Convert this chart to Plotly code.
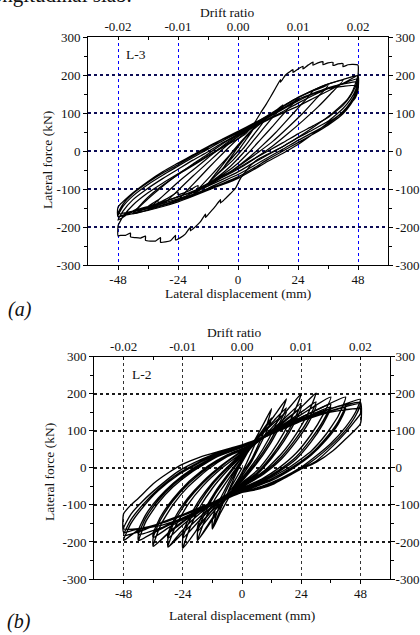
import plotly.graph_objects as go

W, H = 420, 635

# ---------------- L-3 (panel a): displacement (mm), force (kN) pairs
L3_inner = [
    (0, 0),
    (-6, -45), (-3, -18), (0, 10), (3, 35), (6, 55), (3, 28), (0, 0), (-3, -22), (-6, -45),
    (-12, -85), (-8, -52), (-4, -18), (0, 14), (4, 45), (8, 72), (12, 95), (9, 66), (5, 32), (2, 6),
    (-2, -24), (-6, -48), (-9, -66), (-12, -85),
    (-18, -115), (-13, -80), (-8, -44), (-3, -8), (0, 16), (5, 50), (10, 78), (14, 100), (18, 122),
    (14, 90), (10, 58), (6, 26), (2, -6), (-3, -40), (-8, -68), (-13, -92), (-18, -115),
    (-24, -130), (-18, -88), (-12, -46), (-6, -6), (0, 32), (6, 64), (12, 92), (18, 118), (24, 140),
    (19, 104), (14, 66), (9, 30), (4, -6), (0, -32), (-6, -62), (-12, -86), (-18, -108), (-24, -130),
    (-30, -143), (-24, -104), (-18, -66), (-12, -30), (-6, 6), (0, 38), (6, 66), (12, 92), (18, 118),
    (24, 140), (30, 158), (25, 120), (20, 84), (15, 48), (10, 16), (5, -14), (0, -40), (-6, -68),
    (-12, -92), (-18, -110), (-24, -128), (-30, -143),
    (-36, -155), (-30, -118), (-24, -82), (-18, -50), (-12, -18), (-6, 14), (0, 42), (6, 68), (12, 92),
    (18, 118), (24, 140), (30, 158), (36, 172), (31, 136), (26, 100), (20, 62), (14, 26), (8, -4),
    (2, -32), (-4, -58), (-10, -80), (-16, -100), (-22, -116), (-28, -130), (-36, -155),
    (-42, -165), (-36, -126), (-30, -92), (-24, -62), (-18, -34), (-12, -8), (-6, 20), (0, 45), (6, 70),
    (12, 94), (18, 118), (24, 140), (30, 160), (36, 176), (42, 186), (37, 150), (32, 116), (26, 80),
    (20, 46), (14, 14), (8, -14), (2, -40), (-4, -62), (-10, -82), (-16, -100), (-22, -116), (-28, -130),
    (-34, -143), (-42, -165),
]

L3_serrated = [
    (-42, -165), (-38, -135), (-34, -110), (-28, -80), (-22, -54), (-16, -30), (-10, -6), (-4, 18), (0, 32),
    (3, 45), (5, 60), (7, 78), (9, 100), (11, 120), (13, 142), (15, 165), (17, 188), (17, 181), (19, 200),
    (21, 210), (22, 214), (22, 207), (24, 216), (26, 223), (26, 216), (28, 226), (30, 234), (30, 226),
    (32, 232), (34, 235), (34, 227), (36, 232), (38, 233), (38, 225), (40, 229), (42, 230), (42, 222),
    (44, 227), (46, 228), (48, 226), (48, 200),
    (46, 160), (44, 138), (40, 112), (36, 90), (30, 62), (24, 36), (18, 12), (12, -8), (8, -22), (5, -38),
    (3, -55), (1, -72), (0, -85),
    (-1, -98), (-3, -112), (-5, -125), (-7, -137), (-7, -128), (-9, -145), (-11, -160), (-13, -175),
    (-13, -166), (-15, -186), (-17, -199), (-19, -210), (-19, -200), (-21, -218), (-23, -228), (-25, -234),
    (-25, -222), (-27, -236), (-29, -239), (-31, -240), (-31, -228), (-33, -237), (-35, -237), (-37, -235),
    (-37, -224), (-39, -229), (-41, -228), (-43, -226), (-43, -216), (-45, -222), (-47, -222), (-48, -224),
    (-48, -196),
]

L3_cycles48 = [
    (-48, -196), (-46, -172), (-42, -142), (-36, -110), (-30, -84), (-24, -60), (-18, -36), (-12, -12),
    (-6, 12), (0, 38), (6, 62), (12, 82), (18, 100), (24, 118), (30, 138), (36, 158), (42, 178), (48, 198),
    (47, 170), (45, 145), (42, 120), (36, 88), (30, 66), (24, 45), (18, 22), (12, 0), (6, -22), (0, -45),
    (-6, -66), (-12, -86), (-16, -98), (-16, -91), (-20, -106), (-24, -115), (-24, -108), (-28, -124),
    (-32, -136), (-32, -129), (-36, -146), (-40, -158), (-40, -151), (-44, -166), (-48, -182),
    (-46, -158), (-42, -128), (-36, -98), (-30, -72), (-24, -48), (-18, -24), (-12, -2), (-6, 22), (0, 43),
    (6, 64), (12, 84), (18, 104), (24, 126), (30, 146), (36, 164), (42, 178), (48, 190),
    (47, 160), (45, 136), (42, 112), (36, 78), (30, 56), (24, 35), (18, 12), (12, -10), (6, -32), (0, -55),
    (-6, -74), (-12, -92), (-18, -108), (-24, -120), (-30, -134), (-36, -146), (-42, -158), (-48, -172),
    (-46, -146), (-42, -118), (-36, -88), (-30, -63), (-24, -40), (-18, -17), (-12, 5), (-6, 27), (0, 47),
    (6, 67), (12, 88), (18, 110), (24, 132), (30, 150), (36, 166), (42, 176), (48, 182),
    (47, 152), (45, 128), (42, 104), (36, 72), (30, 49), (24, 28), (18, 5), (12, -17), (6, -40), (0, -62),
    (-6, -80), (-12, -98), (-18, -114), (-24, -126), (-30, -138), (-36, -149), (-42, -158), (-48, -165),
    (-46, -140), (-42, -112), (-36, -83), (-30, -58), (-24, -36), (-18, -13), (-12, 9), (-6, 31), (0, 50),
    (6, 70), (12, 91), (18, 113), (24, 136), (30, 152), (36, 164), (42, 170), (48, 172),
    (47, 145), (45, 122), (42, 98), (36, 68), (30, 44), (24, 22), (18, 0), (12, -22), (6, -46), (0, -68),
    (-6, -85), (-12, -101), (-18, -117), (-24, -130), (-30, -142), (-36, -152), (-42, -160), (-48, -173),
    (-48, -148), (-42, -110), (-36, -80), (-30, -54), (-24, -32), (-18, -10), (-12, 12), (-6, 32), (0, 52),
    (6, 72), (12, 92), (18, 117), (24, 141), (30, 160), (36, 176), (42, 188), (48, 198),
    (48, 160), (47, 140), (46, 132), (42, 102), (36, 74), (30, 45), (24, 17), (18, -6), (12, -27), (6, -50),
    (0, -72), (-6, -88), (-12, -103), (-18, -119), (-24, -134), (-30, -146), (-36, -156), (-42, -165),
    (-48, -173),
]

# ---------------- L-2 (panel b)
L2_small = [
    (0, 0),
    (-6, -70), (-4, -40), (-2, -10), (0, 15), (2, 38), (4, 58), (6, 75), (4, 45), (2, 15), (0, -12),
    (-2, -35), (-4, -55), (-6, -70),
    (-12, -165), (-10, -118), (-7, -70), (-4, -30), (0, 15), (3, 50), (6, 85), (9, 122), (12, 160),
    (10, 115), (7, 68), (4, 25), (0, -15), (-3, -50), (-6, -88), (-9, -125), (-12, -165),
    (-12, -140), (-10, -100), (-7, -60), (-4, -22), (0, 20), (3, 52), (6, 80), (9, 108), (12, 135),
    (10, 98), (7, 58), (4, 18), (0, -22), (-3, -52), (-6, -80), (-9, -108), (-12, -140),
    (-18, -196), (-15, -140), (-11, -85), (-6, -35), (0, 22), (4, 58), (8, 95), (13, 140), (18, 186),
    (15, 135), (11, 80), (6, 25), (0, -28), (-4, -62), (-8, -98), (-13, -145), (-18, -196),
    (-18, -172), (-15, -122), (-11, -72), (-6, -25), (0, 28), (4, 60), (8, 92), (13, 128), (18, 162),
    (15, 118), (11, 68), (6, 18), (0, -32), (-4, -62), (-8, -92), (-13, -130), (-18, -172),
    (-18, -158), (-15, -112), (-11, -66), (-6, -20), (0, 30), (4, 62), (8, 90), (13, 122), (18, 150),
    (15, 108), (11, 60), (6, 12), (0, -36), (-4, -64), (-8, -90), (-13, -122), (-18, -158),
]

L2_mid = [
    (-24, -217), (-21, -160), (-17, -105), (-12, -55), (-6, -8), (0, 32), (6, 68), (11, 100), (17, 145),
    (24, 200), (21, 148), (17, 95), (12, 42), (6, -8), (0, -40), (-6, -72), (-11, -105), (-17, -155),
    (-24, -217),
    (-24, -190), (-21, -140), (-17, -92), (-12, -45), (-6, -2), (0, 36), (6, 68), (11, 96), (17, 132),
    (24, 175), (21, 128), (17, 80), (12, 32), (6, -14), (0, -44), (-6, -72), (-11, -100), (-17, -140),
    (-24, -190),
    (-24, -176), (-21, -130), (-17, -84), (-12, -40), (-6, 2), (0, 38), (6, 68), (11, 94), (17, 126),
    (24, 163), (21, 118), (17, 72), (12, 26), (6, -18), (0, -46), (-6, -74), (-11, -98), (-17, -132),
    (-24, -176),
    (-30, -214), (-27, -158), (-22, -100), (-16, -50), (-8, 0), (0, 40), (7, 72), (13, 102), (20, 140),
    (25, 170), (30, 202), (27, 150), (22, 92), (16, 38), (9, -8), (0, -48), (-7, -75), (-13, -102),
    (-20, -140), (-25, -175), (-30, -214),
    (-30, -190), (-27, -140), (-22, -88), (-16, -42), (-8, 6), (0, 44), (7, 74), (13, 100), (20, 132),
    (25, 155), (30, 178), (27, 132), (22, 80), (16, 30), (9, -12), (0, -50), (-7, -76), (-13, -100),
    (-20, -132), (-25, -160), (-30, -190),
    (-30, -178), (-27, -132), (-22, -82), (-16, -38), (-8, 8), (0, 46), (7, 75), (13, 99), (20, 128),
    (25, 148), (30, 166), (27, 122), (22, 72), (16, 24), (9, -16), (0, -52), (-7, -78), (-13, -100),
    (-20, -128), (-25, -152), (-30, -178),
    (-36, -212), (-33, -155), (-28, -100), (-22, -52), (-14, -5), (-6, 30), (0, 48), (8, 78), (15, 105),
    (22, 135), (29, 165), (36, 191), (33, 145), (28, 90), (22, 40), (15, 0), (8, -30), (0, -55), (-8, -80),
    (-15, -105), (-22, -135), (-29, -170), (-36, -212),
    (-36, -188), (-33, -140), (-28, -90), (-22, -45), (-14, 0), (-6, 32), (0, 50), (8, 78), (15, 104),
    (22, 130), (29, 152), (36, 172), (33, 128), (28, 78), (22, 30), (15, -6), (8, -34), (0, -58),
    (-8, -82), (-15, -106), (-22, -132), (-29, -158), (-36, -188),
    (-36, -176), (-33, -132), (-28, -84), (-22, -40), (-14, 4), (-6, 35), (0, 52), (8, 79), (15, 103),
    (22, 127), (29, 146), (36, 164), (33, 120), (28, 70), (22, 24), (15, -10), (8, -37), (0, -60),
    (-8, -84), (-15, -107), (-22, -130), (-29, -152), (-36, -176),
]

L2_large = [
    (-42, -196), (-39, -145), (-34, -95), (-28, -52), (-20, -10), (-10, 30), (0, 55), (8, 80), (16, 108),
    (24, 136), (32, 162), (42, 191), (39, 140), (34, 90), (28, 45), (20, 5), (12, -25), (0, -62), (-8, -85),
    (-16, -110), (-24, -135), (-32, -160), (-42, -196),
    (-42, -180), (-39, -135), (-34, -88), (-28, -46), (-20, -6), (-10, 32), (0, 56), (8, 80), (16, 106),
    (24, 132), (32, 152), (42, 170), (39, 125), (34, 80), (28, 38), (20, 0), (12, -30), (0, -64), (-8, -88),
    (-16, -112), (-24, -138), (-32, -160), (-42, -180),
    (-42, -168), (-39, -126), (-34, -82), (-28, -42), (-20, -2), (-10, 34), (0, 57), (8, 80), (16, 104),
    (24, 128), (32, 146), (42, 162), (39, 118), (34, 74), (28, 34), (20, -4), (12, -34), (0, -65),
    (-8, -89), (-16, -112), (-24, -136), (-32, -154), (-42, -168),
    (-48, -196), (-45, -150), (-40, -105), (-34, -62), (-26, -20), (-16, 18), (-6, 45), (0, 58), (8, 80),
    (16, 104), (24, 128), (32, 150), (40, 168), (48, 185), (46, 150), (42, 110), (36, 66), (30, 32),
    (24, 2), (16, -28), (8, -50), (0, -66), (-8, -84), (-16, -104), (-24, -126), (-32, -146), (-40, -168),
    (-48, -183),
    (-45, -140), (-40, -98), (-34, -58), (-26, -16), (-16, 20), (-6, 47), (0, 60), (8, 80), (16, 103),
    (24, 126), (32, 146), (40, 162), (48, 173), (46, 140), (42, 102), (36, 60), (30, 26), (24, -2),
    (16, -30), (8, -52), (0, -66), (-8, -86), (-16, -106), (-24, -128), (-32, -148), (-40, -162), (-48, -165),
    (-45, -125), (-40, -88), (-34, -52), (-26, -10), (-16, 24), (-6, 50), (0, 62), (8, 82), (16, 104),
    (24, 126), (32, 144), (40, 155), (48, 160), (48, 146), (46, 128), (42, 95), (37, 60), (30, 18),
    (24, -3), (18, -25), (12, -43), (7, -57), (0, -66), (-8, -88), (-16, -108), (-24, -129), (-36, -156),
    (-44, -168), (-48, -174), (-48, -124),
    (-45, -100), (-42, -82), (-36, -43), (-30, -14), (-24, 10), (-17, 29), (-10, 43), (0, 62), (6, 75),
    (12, 95), (18, 115), (24, 132), (30, 148), (37, 162), (42, 170), (48, 177), (48, 119), (42, 78),
    (37, 47), (30, 15), (24, -3), (18, -25), (13, -43), (7, -57), (0, -66),
]

disp_ticks = [-48, -24, 0, 24, 48]
disp_minor = [-36, -12, 12, 36]
drift_ticks = [-0.02, -0.01, 0.0, 0.01, 0.02]
drift_labels = ["-0.02", "-0.01", "0.00", "0.01", "0.02"]
drift_minor = [-0.015, -0.005, 0.005, 0.015]
force_ticks = [-300, -200, -100, 0, 100, 200, 300]
force_labels = ["-300", "-200", "-100", "0", "100", "200", "300"]
force_minor = [-250, -150, -50, 50, 150, 250]

FONT = "Liberation Serif, Times New Roman, serif"
tickfont = dict(family=FONT, size=13, color="#111111")

fig = go.Figure()


def add_path(pts, xa, ya, width):
    fig.add_trace(go.Scatter(
        x=[p[0] for p in pts], y=[p[1] for p in pts], mode="lines",
        line=dict(color="black", width=width, shape="spline", smoothing=0.5),
        xaxis=xa, yaxis=ya, showlegend=False, hoverinfo="skip"))


for pts in (L3_inner, L3_serrated, L3_cycles48):
    add_path(pts, "x", "y", 1.25)
for pts in (L2_small, L2_mid, L2_large):
    add_path(pts, "x3", "y3", 1.35)
# placeholders so the secondary axes are drawn
for xa, ya in (("x2", "y"), ("x", "y2"), ("x4", "y3"), ("x3", "y4")):
    fig.add_trace(go.Scatter(x=[None], y=[None], xaxis=xa, yaxis=ya, showlegend=False))


def xbottom(dom, anchor, gridcolor, gridwidth):
    return dict(domain=dom, anchor=anchor, range=[-60, 60], tickvals=disp_ticks,
                ticktext=[str(v) for v in disp_ticks], ticks="outside", ticklen=4,
                tickcolor="black", showline=True, linecolor="black", linewidth=1,
                showgrid=True, gridcolor=gridcolor, griddash="dot", gridwidth=gridwidth,
                zeroline=False, tickfont=tickfont, automargin=False, ticklabelstandoff=-2,
                minor=dict(tickvals=disp_minor, ticks="outside", ticklen=3,
                           tickcolor="black", showgrid=False))


def xtop(over, anchor):
    return dict(overlaying=over, side="top", anchor=anchor, range=[-0.025, 0.025],
                tickvals=drift_ticks, ticktext=drift_labels, ticks="inside", ticklen=3,
                tickcolor="black", showline=True, linecolor="black", linewidth=1,
                showgrid=False, zeroline=False, tickfont=tickfont, automargin=False,
                minor=dict(tickvals=drift_minor, ticks="inside",
                           ticklen=3, tickcolor="black", showgrid=False))


def yleft(dom, anchor, gridcolor, gridwidth):
    return dict(domain=dom, anchor=anchor, range=[-300, 300], tickvals=force_ticks,
                ticktext=force_labels, ticks="outside", ticklen=4, tickcolor="black",
                showline=True, linecolor="black", linewidth=1, showgrid=True,
                gridcolor=gridcolor, griddash="dot", gridwidth=gridwidth, zeroline=False,
                tickfont=tickfont, automargin=False,
                minor=dict(tickvals=force_minor, ticks="outside", ticklen=3,
                           tickcolor="black", showgrid=False))


def yright(over, anchor, standoff):
    return dict(overlaying=over, side="right", anchor=anchor, range=[-300, 300],
                tickvals=force_ticks, ticktext=force_labels, ticks="outside", ticklen=4,
                tickcolor="black", showline=True, linecolor="black", linewidth=1,
                showgrid=False, zeroline=False, tickfont=tickfont, automargin=False,
                ticklabelstandoff=standoff,
                minor=dict(tickvals=force_minor, ticks="outside", ticklen=3,
                           tickcolor="black", showgrid=False))


a_x = [88 / W, 388 / W]
a_y = [1 - 265 / H, 1 - 37 / H]
b_x = [94 / W, 390 / W]
b_y = [1 - 579 / H, 1 - 356.7 / H]

fig.update_layout(
    width=W, height=H, autosize=False,
    margin=dict(l=0, r=0, t=0, b=0, pad=0),
    paper_bgcolor="white", plot_bgcolor="white",
    xaxis=xbottom(a_x, "y", "#0000ff", 1),
    xaxis2=xtop("x", "y"),
    yaxis=yleft(a_y, "x", "#0c0c55", 1.5),
    yaxis2=yright("y", "x", 0),
    xaxis3=xbottom(b_x, "y3", "#333333", 1),
    xaxis4=xtop("x3", "y3"),
    yaxis3=yleft(b_y, "x3", "#1a1a1a", 1.5),
    yaxis4=yright("y3", "x3", -2),
)


def note(text, xp, yp, size=13.5, angle=0, xanchor="center", italic=False):
    fig.add_annotation(text=("<i>%s</i>" % text) if italic else text,
                       x=xp / W, y=1 - yp / H, xref="paper", yref="paper",
                       xanchor=xanchor, yanchor="middle", showarrow=False, textangle=angle,
                       font=dict(family=FONT, size=size, color="#111111"))


note("longitudinal slab.", -16, -5, size=21, xanchor="left")
note("Drift ratio", 228, 13)
note("Lateral displacement (mm)", 238, 293)
note("Lateral force (kN)", 47, 160, angle=-90)
note("(a)", 20, 309, size=20, italic=True)
note("Drift ratio", 234, 332)
note("Lateral displacement (mm)", 242, 615)
note("Lateral force (kN)", 49, 472, angle=-90)
note("(b)", 19, 621, size=20, italic=True)

fig.add_annotation(text="L-3", x=-45.5, y=254, xref="x", yref="y", xanchor="left",
                   yanchor="middle", showarrow=False, font=dict(family=FONT, size=13.5, color="#111111"))
fig.add_annotation(text="L-2", x=-45.5, y=253, xref="x3", yref="y3", xanchor="left",
                   yanchor="middle", showarrow=False, font=dict(family=FONT, size=13.5, color="#111111"))

fig.write_html("out.html",
               config={"displayModeBar": False, "staticPlot": True},
               post_script="document.body.style.margin='0px';"
                           "document.body.style.overflow='hidden';")
